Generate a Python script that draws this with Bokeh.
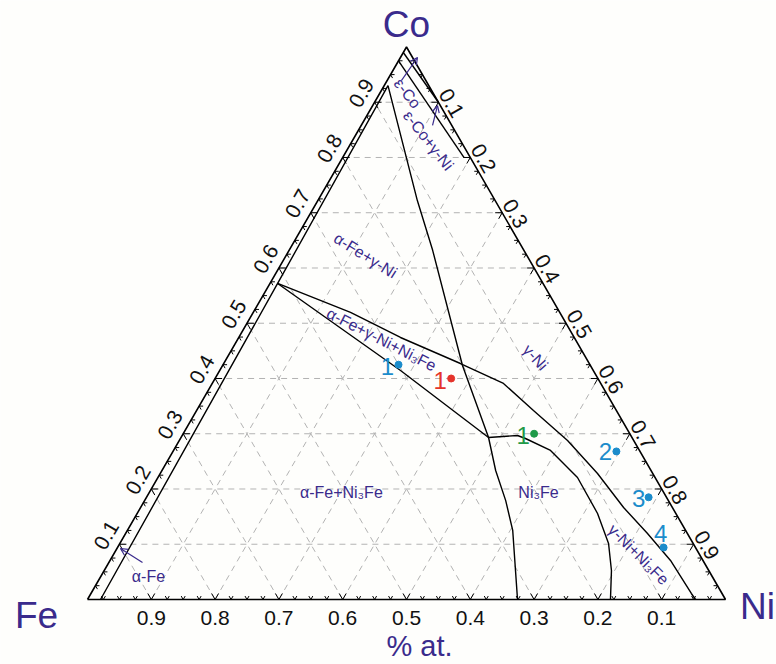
import numpy as np
from bokeh.plotting import figure
from bokeh.models import Range1d, Arrow, OpenHead
from bokeh.embed import file_html
from bokeh.resources import INLINE
from bokeh.core.properties import value

# ---------------- data (compositions: Co fraction, Ni fraction) ----------------
tick_values = [0.1, 0.2, 0.3, 0.4, 0.5, 0.6, 0.7, 0.8, 0.9]
tick_labels = ["0.1", "0.2", "0.3", "0.4", "0.5", "0.6", "0.7", "0.8", "0.9"]
# Fe fraction shown along the bottom edge (at Ni = 0.1 ... 0.9)
bottom_labels = ["0.9", "0.8", "0.7", "0.6", "0.5", "0.4", "0.3", "0.2", "0.1"]

# phase boundaries
line_A_co = [0.93, 0.722, 0.632, 0.4235, 0.2932, 0.2335, 0.179, 0.125, 0.0]
line_A_ni = [0.006, 0.156, 0.225, 0.376, 0.482, 0.523, 0.566, 0.604, 0.674]

alpha_fe_co = [0.0, 0.572, 0.93]
alpha_fe_ni = [0.0204, 0.012, 0.006]

upper3_co = [0.572, 0.5195, 0.4742, 0.4271, 0.391, 0.342, 0.2878, 0.228, 0.1665, 0.1195, 0.0706, 0.0109, 0.0]
upper3_ni = [0.012, 0.1525, 0.2535, 0.371, 0.4565, 0.528, 0.6085, 0.6854, 0.757, 0.818, 0.8785, 0.941, 0.953]

lower3_co = [0.572, 0.4145, 0.2932]
lower3_ni = [0.012, 0.2834, 0.482]

ni3fe_right_co = [0.2932, 0.2968, 0.2914, 0.2697, 0.2208, 0.1557, 0.1014, 0.0525, 0.0]
ni3fe_right_ni = [0.482, 0.5256, 0.5408, 0.5909, 0.6576, 0.7216, 0.766, 0.795, 0.8197]

eps1_co = [0.99, 0.90]
eps1_ni = [0.0, 0.10]
eps2_co = [0.975, 0.80]
eps2_ni = [0.0, 0.19]

# sample points
pt_co = [0.425, 0.40, 0.30, 0.268, 0.185, 0.094]
pt_ni = [0.275, 0.37, 0.55, 0.695, 0.787, 0.856]
pt_label = ["1", "1", "1", "2", "3", "4"]
pt_color = ["#1b8ccb", "#e5332a", "#1f9a48", "#1b8ccb", "#1b8ccb", "#1b8ccb"]

# region labels
reg_text = ["\u03b5-Co", "\u03b5-Co+\u03b3-Ni", "\u03b1-Fe+\u03b3-Ni", "\u03b1-Fe+\u03b3-Ni+Ni\u2083Fe",
            "\u03b3-Ni", "\u03b1-Fe+Ni\u2083Fe", "Ni\u2083Fe", "\u03b3-Ni+Ni\u2083Fe", "\u03b1-Fe"]
reg_co = [0.916, 0.8308, 0.6226, 0.4706, 0.438, 0.1937, 0.1937, 0.0814, 0.0416]
reg_ni = [0.0436, 0.119, 0.1244, 0.2255, 0.483, 0.301, 0.610, 0.823, 0.0748]
reg_angle_deg = [-52, -52, -32, -27, -48, 0, 0, -45, 0]

# arrows (start co, start ni, end co, end ni)
arr_co0 = [0.939, 0.858, 0.067]
arr_ni0 = [0.0225, 0.1118, 0.0527]
arr_co1 = [0.981, 0.894, 0.0923]
arr_ni1 = [0.0267, 0.1016, 0.0055]

# ---------------- geometry ----------------
S = 638.0            # pixels per unit side
H = np.sqrt(3) / 2


def cart(co, ni):
    co = np.asarray(co, float)
    ni = np.asarray(ni, float)
    return ni + co / 2, co * H


INK = "#3a2b8c"
FONT = value("Liberation Sans")

p = figure(width=776, height=664, x_range=Range1d(-87 / S, 689 / S),
           y_range=Range1d(-65 / S, 599 / S), toolbar_location=None,
           output_backend="svg", min_border=0,
           x_axis_location=None, y_axis_location=None)
p.grid.visible = False
p.outline_line_color = None
p.background_fill_color = "#fefefc"
p.border_fill_color = "#fefefc"

# grid lines
v = np.array(tick_values)
gx0, gy0, gx1, gy1 = [], [], [], []
for a in v:
    x0, y0 = cart(a, 0.0); x1, y1 = cart(a, 1 - a)
    gx0.append(x0); gy0.append(y0); gx1.append(x1); gy1.append(y1)
    x0, y0 = cart(0.0, a); x1, y1 = cart(1 - a, a)
    gx0.append(x0); gy0.append(y0); gx1.append(x1); gy1.append(y1)
    x0, y0 = cart(0.0, 1 - a); x1, y1 = cart(1 - a, 0.0)
    gx0.append(x0); gy0.append(y0); gx1.append(x1); gy1.append(y1)
p.segment(gx0, gy0, gx1, gy1, line_color="#b3b3b3", line_dash="6 5", line_width=1)

# ticks
tx0, ty0, tx1, ty1 = [], [], [], []
for k in range(1, 40):
    f = k * 0.025
    L = (7.0 if k % 4 == 0 else 4.0) / S
    edges = [
        (cart(0.0, f), (60, 120)),
        (cart(f, 0.0), (0, -60)),
        (cart(f, 1 - f), (180, 240)),
    ]
    for (px, py), angs in edges:
        for ang in angs:
            r = np.radians(ang)
            tx0.append(float(px)); ty0.append(float(py))
            tx1.append(float(px) + L * np.cos(r)); ty1.append(float(py) + L * np.sin(r))
p.segment(tx0, ty0, tx1, ty1, line_color="black", line_width=1)

# frame
fx, fy = cart([0, 0, 1, 0], [0, 1, 0, 0])
p.line(fx, fy, line_color="black", line_width=1.6)

# phase boundaries
for co, ni in [(line_A_co, line_A_ni), (alpha_fe_co, alpha_fe_ni), (upper3_co, upper3_ni),
               (lower3_co, lower3_ni), (ni3fe_right_co, ni3fe_right_ni),
               (eps1_co, eps1_ni), (eps2_co, eps2_ni)]:
    x, y = cart(co, ni)
    p.line(x, y, line_color="black", line_width=1.4)

# tick labels
bx, by = cart(np.zeros(9), v)
p.text(bx, by - 18 / S, text=bottom_labels,
       text_font=FONT, text_font_size="21px", text_align="center",
       text_baseline="middle", text_color="#111111")
lx, ly = cart(v, np.zeros(9))
p.text(lx - 13 / S, ly + 9 / S, text=tick_labels, angle=[np.pi / 3] * 9,
       text_font=FONT, text_font_size="21px", text_align="center",
       text_baseline="middle", text_color="#111111")
rx, ry = cart(1 - v, v)
p.text(rx + 13 / S, ry - 1 / S, text=tick_labels, angle=[-np.pi / 3] * 9,
       text_font=FONT, text_font_size="21px", text_align="center",
       text_baseline="middle", text_color="#111111")

# corner labels
cx, cy = cart([1.0, 0.0, 0.0], [0.0, 0.0, 1.0])
p.text([cx[0], cx[1] - 51 / S, cx[2] + 32 / S], [cy[0] + 22 / S, cy[1] - 16 / S, cy[2] - 7 / S],
       text=["Co", "Fe", "Ni"], text_font=FONT, text_font_size="37px",
       text_align="center", text_baseline="middle", text_color=INK)
p.text([0.5 + 13 / S], [-46 / S], text=["% at."], text_font=FONT, text_font_size="29px",
       text_align="center", text_baseline="middle", text_color=INK)

# region labels
rgx, rgy = cart(reg_co, reg_ni)
p.text(rgx, rgy, text=reg_text, angle=list(np.radians(reg_angle_deg)),
       text_font=FONT, text_font_size="16px", text_align="center",
       text_baseline="middle", text_color=INK)

# arrows
ax0, ay0 = cart(arr_co0, arr_ni0)
ax1, ay1 = cart(arr_co1, arr_ni1)
for i in range(len(ax0)):
    p.add_layout(Arrow(end=OpenHead(size=7, line_color=INK, line_width=1.2),
                       x_start=float(ax0[i]), y_start=float(ay0[i]),
                       x_end=float(ax1[i]), y_end=float(ay1[i]),
                       line_color=INK, line_width=1.2))

# sample points
sx, sy = cart(pt_co, pt_ni)
p.scatter(sx, sy, size=7, fill_color=pt_color, line_color=pt_color)
offx = np.array([-11, -11, -11, -11, -10, -3]) / S
offy = np.array([-2, -2, -2, 0, -1, 14]) / S
p.text(sx + offx, sy + offy, text=pt_label, text_color=pt_color,
       text_font=FONT, text_font_size="24px", text_align="center", text_baseline="middle")

open("out.html", "w").write(file_html(p, INLINE))
